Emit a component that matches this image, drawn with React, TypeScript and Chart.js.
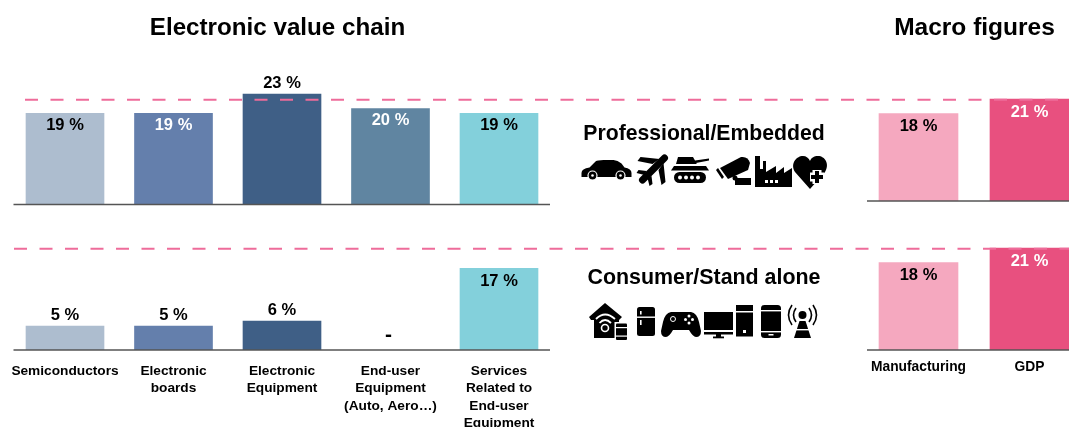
import React, { useEffect, useRef } from "react";
import { Chart, registerables } from "chart.js";

Chart.register(...registerables);

// Value chain categories, wrapped the way the axis prints them
const chainCategories = [
  ["Semiconductors"],
  ["Electronic", "boards"],
  ["Electronic", "Equipment"],
  ["End-user", "Equipment", "(Auto, Aero…)"],
  ["Services", "Related to", "End-user", "Equipment"],
];
const macroCategories = ["Manufacturing", "GDP"];

// Shares in percent, by market segment
const professionalValues = [19, 19, 23, 20, 19];
const consumerValues = [5, 5, 6, null, 17];
const macroProfessionalValues = [18, 21];
const macroConsumerValues = [18, 21];

// Dashed marker level for each row, in the value chain's own units
const professionalMarker = 21.8;
const consumerMarker = 21.1;

const chainColors = ["#ADBDCF", "#647FAC", "#3F5F86", "#6085A1", "#83D0DB"];
const macroColors = ["#F5A8BF", "#E8507F"];
const FONT = '"Liberation Sans", Arimo, Helvetica, Arial, sans-serif';

type Placement = { inside: boolean; color: string };
const inBlack = { inside: true, color: "#000" };
const inWhite = { inside: true, color: "#fff" };
const above = { inside: false, color: "#000" };

const professionalPlacement: Placement[] = [inBlack, inWhite, above, inWhite, inBlack];
const consumerPlacement: Placement[] = [above, above, above, above, inBlack];
const macroPlacement: Placement[] = [inBlack, inWhite];

type PanelSpec = {
  labels: any[];
  values: (number | null)[];
  colors: string[];
  placement: Placement[];
  width: number;
  left: number;
  right: number;
  top: number;
  baseline: number;
  pxPerUnit: number;
  barWidth: number;
  axisHeight: number;
  tickSize: number;
  tickPadding: number;
  insideOffset: number;
  marker?: { value: number; startX: number };
  ruleEnd?: number;
};

const CANVAS_H = 427;

// Value captions, the baseline rule and the dashed marker
const panelDecor = {
  id: "panelDecor",
  afterDatasetsDraw(chart: any, _args: any, opts: any) {
    const spec: PanelSpec = opts.spec;
    const { ctx, scales } = chart;
    const x = scales.x;
    const y = scales.y;
    const base = y.getPixelForValue(0);

    ctx.save();
    ctx.strokeStyle = "#555";
    ctx.lineWidth = 1.5;
    ctx.beginPath();
    ctx.moveTo(x.getPixelForValue(0) - 51.5, base);
    ctx.lineTo(spec.ruleEnd ?? x.getPixelForValue(spec.values.length - 1) + 51, base);
    ctx.stroke();

    ctx.textAlign = "center";
    ctx.textBaseline = "middle";
    spec.values.forEach((v, i) => {
      const p = spec.placement[i];
      const cx = x.getPixelForValue(i);
      ctx.fillStyle = p.color;
      if (v === null) {
        ctx.font = `bold 21px ${FONT}`;
        ctx.fillText("-", cx - 2, base - 15);
        return;
      }
      ctx.font = `bold 16.5px ${FONT}`;
      const topPx = y.getPixelForValue(v);
      ctx.fillText(`${v} %`, cx, p.inside ? topPx + spec.insideOffset : topPx - 11);
    });

    if (spec.marker) {
      const my = y.getPixelForValue(spec.marker.value);
      ctx.strokeStyle = "#EE6C9A";
      ctx.lineWidth = 2;
      ctx.setLineDash([13, 12.5]);
      ctx.beginPath();
      ctx.moveTo(spec.marker.startX, my);
      ctx.lineTo(spec.width, my);
      ctx.stroke();
    }
    ctx.restore();
  },
};

function buildChart(canvas: HTMLCanvasElement, spec: PanelSpec) {
  const showTicks = spec.axisHeight > 0;
  return new Chart(canvas, {
    type: "bar",
    data: {
      labels: spec.labels,
      datasets: [
        {
          data: spec.values,
          backgroundColor: spec.colors,
          barThickness: spec.barWidth,
          borderWidth: 0,
        },
      ],
    },
    plugins: [panelDecor],
    options: {
      responsive: false,
      animation: false,
      devicePixelRatio: 1,
      layout: {
        padding: {
          left: spec.left,
          right: spec.width - spec.right,
          top: spec.top,
          bottom: CANVAS_H - spec.baseline - spec.axisHeight,
        },
      },
      plugins: {
        legend: { display: false },
        tooltip: { enabled: false },
        title: { display: false },
        panelDecor: { spec },
      } as any,
      scales: {
        x: {
          display: true,
          afterFit(scale: any) {
            // Fixed axis band; tick labels must not push the plot area sideways
            scale.height = spec.axisHeight;
            scale.paddingLeft = 0;
            scale.paddingRight = 0;
          },
          border: { display: false },
          grid: { display: false, drawTicks: false },
          ticks: {
            display: showTicks,
            autoSkip: false,
            maxRotation: 0,
            minRotation: 0,
            padding: spec.tickPadding,
            color: "#000",
            font: { family: FONT, size: spec.tickSize, weight: "bold", lineHeight: 1.25 },
          },
        },
        y: {
          display: false,
          min: 0,
          max: (spec.baseline - spec.top) / spec.pxPerUnit,
        },
      },
    } as any,
  });
}

const chainFrame = {
  width: 1069,
  left: 10.75,
  right: 553.25,
  barWidth: 78,
  pxPerUnit: 4.8,
  tickSize: 13.7,
  tickPadding: 13,
};
const macroFrame = {
  width: 1100,
  left: 863,
  right: 1085,
  barWidth: 79,
  pxPerUnit: 4.85,
  ruleEnd: 1100,
  tickSize: 13.8,
  tickPadding: 9,
  insideOffset: 13,
};

const panels: PanelSpec[] = [
  {
    ...macroFrame,
    labels: macroCategories,
    values: macroProfessionalValues,
    colors: macroColors,
    placement: macroPlacement,
    top: 40,
    baseline: 201,
    axisHeight: 0,
  },
  {
    ...macroFrame,
    labels: macroCategories,
    values: macroConsumerValues,
    colors: macroColors,
    placement: macroPlacement,
    top: 225,
    baseline: 350,
    axisHeight: 77,
  },
  {
    ...chainFrame,
    labels: chainCategories,
    values: professionalValues,
    colors: chainColors,
    placement: professionalPlacement,
    top: 40,
    baseline: 204.5,
    axisHeight: 0,
    insideOffset: 12,
    marker: { value: professionalMarker, startX: 25 },
  },
  {
    ...chainFrame,
    labels: chainCategories,
    values: consumerValues,
    colors: chainColors,
    placement: consumerPlacement,
    top: 225,
    baseline: 350,
    axisHeight: 77,
    insideOffset: 13,
    marker: { value: consumerMarker, startX: 14 },
  },
];

function Panel({ spec }: { spec: PanelSpec }) {
  const ref = useRef<HTMLCanvasElement>(null);
  useEffect(() => {
    const chart = buildChart(ref.current!, spec);
    return () => chart.destroy();
  }, [spec]);
  return (
    <canvas
      ref={ref}
      width={spec.width}
      height={CANVAS_H}
      style={{ position: "absolute", left: 0, top: 0, width: spec.width, height: CANVAS_H }}
    />
  );
}

function Heading({ text, cx, cy, size }: { text: string; cx: number; cy: number; size: number }) {
  return (
    <div
      style={{
        position: "absolute",
        left: cx - 200,
        top: cy - 20,
        width: 400,
        height: 40,
        lineHeight: "40px",
        textAlign: "center",
        fontFamily: FONT,
        fontWeight: "bold",
        fontSize: size,
        color: "#000",
        whiteSpace: "nowrap",
      }}
    >
      {text}
    </div>
  );
}

// Pictograms for the application domains of each segment
function ProfessionalIcons() {
  return (
    <>
      <g transform="translate(581.5 160)">
        <path d="M0 13Q0 8.5 8 7.5L14 1.5Q16 0 22 0L32 0Q36 0 40 3.5L43 7.5Q50 8.5 50 13L50 17L0 17Z" />
        <circle cx="11" cy="15.5" r="4.5" stroke="#fff" strokeWidth="1.2" />
        <circle cx="39" cy="15.5" r="4.5" stroke="#fff" strokeWidth="1.2" />
        <circle cx="11" cy="15.5" r="1.3" fill="#fff" />
        <circle cx="39" cy="15.5" r="1.3" fill="#fff" />
      </g>
      <g transform="translate(636.5 155)">
        <path d="M28 3L6 25" stroke="#000" strokeWidth="7" strokeLinecap="round" />
        <path d="M16 9L1 6L4 2L23 4ZM22 15L25 30L29 27L27 8ZM8 20L0 18L2 15L10 16ZM11 23L13 31L16 29L15 21Z" />
      </g>
      <g transform="translate(671 156)">
        <path d="M7 1L22 1L24 4.5L38 2.5L38 4.5L25 7L26 8L5 8Z" />
        <path d="M3 10L35 10L38 14.5L0 14.5Z" />
        <rect x="3" y="16" width="32" height="11" rx="5.5" />
        {[9, 15, 21, 27].map((c) => (
          <circle key={c} cx={c} cy="21.5" r="2" fill="#fff" />
        ))}
      </g>
      <g transform="translate(715 157)">
        <path d="M5 11L26 0Q33 -1 35 6L33 13L13 22Z" />
        <path d="M1 13L3 11L9 20L7 22Z" />
        <circle cx="20" cy="21" r="2.5" />
        <rect x="20" y="21" width="16" height="7" />
      </g>
      <g transform="translate(755 156)">
        <path d="M0 31L0 0L5 0L5 13L8 13L8 5L11 5L11 16L21 10L21 17L29 11L29 17L37 12L37 31Z" />
        {[10, 15, 20].map((c) => (
          <rect key={c} x={c} y="24" width="3" height="3" fill="#fff" />
        ))}
      </g>
      <g transform="translate(793 156)">
        <path d="M17 33L2 16C-3 8 3 0 10 0C13 0 16 2 17 5C18 2 21 0 25 0C32 0 37 8 32 16Z" />
        <path d="M24 14V28M17 21H31" stroke="#fff" strokeWidth="9" />
        <path d="M24 15V27M18 21H30" stroke="#000" strokeWidth="4" />
      </g>
    </>
  );
}

function ConsumerIcons() {
  return (
    <>
      <g transform="translate(589 303)">
        <path d="M0 14L16 0L33 14L30 17L30 35L5 35L5 17L2 17Z" />
        <g fill="none" stroke="#fff" strokeWidth="1.8">
          <path d="M7 16Q16 7 26 16" />
          <path d="M10.5 20Q16 14 22 20" />
        </g>
        <circle cx="16" cy="25" r="3.5" fill="none" stroke="#fff" strokeWidth="1.6" />
        <rect x="25.5" y="19" width="13" height="19" fill="#fff" />
        <rect x="27" y="20.5" width="11" height="16.5" rx="1" />
        <rect x="27" y="24" width="11" height="1.2" fill="#fff" />
        <rect x="27" y="32.5" width="11" height="1.2" fill="#fff" />
      </g>
      <g transform="translate(637 307)">
        <rect width="18" height="29" rx="2.5" />
        <rect y="9.5" width="18" height="1.4" fill="#fff" />
        <rect x="3" y="4" width="1.6" height="3.5" fill="#fff" />
        <rect x="3" y="13" width="1.6" height="5" fill="#fff" />
      </g>
      <g transform="translate(661 312)">
        <path d="M10 0L30 0Q36 1 38 10L40 19Q40 25 35 25Q32 25 28 18L12 18Q8 25 5 25Q0 25 0 19L2 10Q4 1 10 0Z" />
        <circle cx="12" cy="7" r="2.5" fill="none" stroke="#fff" strokeWidth="1" />
        {[
          [28, 4],
          [28, 11],
          [24.5, 7.5],
          [31.5, 7.5],
        ].map(([a, b]) => (
          <circle key={a * 10 + b} cx={a} cy={b} r="1.5" fill="#fff" />
        ))}
      </g>
      <g transform="translate(704 312)">
        <rect width="29" height="18" />
        <rect y="20" width="29" height="2.5" />
        <rect x="12" y="22" width="5" height="3" />
        <rect x="9" y="24.5" width="11" height="1.8" />
      </g>
      <g transform="translate(736 305)">
        <rect width="17" height="6" />
        <rect y="7.5" width="17" height="24" />
        <rect x="7" y="25" width="3" height="3" fill="#fff" />
      </g>
      <g transform="translate(761 305)">
        <rect width="20" height="33" rx="3.5" />
        <rect y="5" width="20" height="1.4" fill="#fff" />
        <rect y="26" width="20" height="1.4" fill="#fff" />
        <rect x="7.5" y="29" width="5" height="1.5" fill="#fff" />
      </g>
      <g transform="translate(786 305)">
        <circle cx="16.5" cy="10" r="4" />
        <path d="M13.5 16L19.5 16L25 33L8 33Z" />
        <rect x="9" y="24" width="15" height="1.4" fill="#fff" />
        <g fill="none" stroke="#000" strokeWidth="1.6">
          <path d="M10 3Q5 10 10 17" />
          <path d="M23 3Q28 10 23 17" />
          <path d="M6 0Q-1 10 6 20" />
          <path d="M27 0Q34 10 27 20" />
        </g>
      </g>
    </>
  );
}

export default function App() {
  useEffect(() => {
    document.body.style.margin = "0";
  }, []);
  return (
    <div
      style={{
        position: "relative",
        width: 1069,
        height: CANVAS_H,
        overflow: "hidden",
        background: "#fff",
      }}
    >
      {panels.map((spec, i) => (
        <Panel key={i} spec={spec} />
      ))}
      <Heading text="Electronic value chain" cx={277.5} cy={27} size={24.2} />
      <Heading text="Macro figures" cx={974.5} cy={27} size={24.5} />
      <Heading text="Professional/Embedded" cx={704} cy={133} size={21.2} />
      <Heading text="Consumer/Stand alone" cx={704} cy={277} size={21.4} />
      <svg
        width={1069}
        height={CANVAS_H}
        style={{ position: "absolute", left: 0, top: 0 }}
      >
        <ProfessionalIcons />
        <ConsumerIcons />
      </svg>
    </div>
  );
}
